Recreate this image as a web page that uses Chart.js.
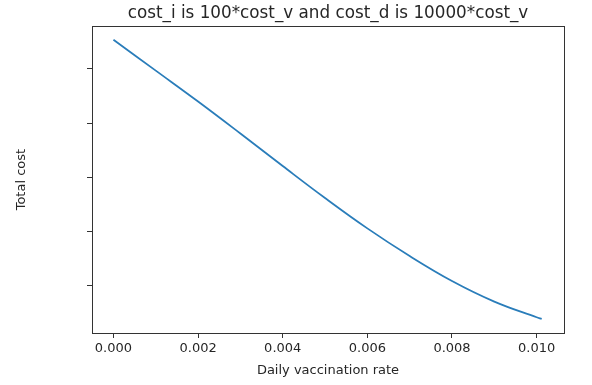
<!DOCTYPE html>
<html>
<head>
<meta charset="utf-8">
<script src="https://cdn.jsdelivr.net/npm/chart.js@4"></script>
<style>
  html, body { margin: 0; padding: 0; background: #fff; }
  canvas { display: block; }
</style>
</head>
<body>
<canvas id="costChart" width="592" height="385"></canvas>
<script>
// values (y in arbitrary units, axis has no labels)
const rates = [0, 0.001, 0.002, 0.003, 0.004, 0.005, 0.006, 0.007, 0.008, 0.009, 0.010, 0.01012];
const totalCost = [5.54, 4.97, 4.40, 3.81, 3.21, 2.62, 2.06, 1.55, 1.09, 0.71, 0.42, 0.39];
const xTicks = [0, 0.002, 0.004, 0.006, 0.008, 0.010];
const yTicks = [1, 2, 3, 4, 5];

Chart.defaults.font.family = "'DejaVu Sans', sans-serif";
Chart.defaults.color = '#262626';

// matplotlib-style box round the plot area
var framePlugin = {
    id: 'frame',
    afterDraw: function(chart) {
        var a = chart.chartArea;
        var ctx = chart.ctx;
        ctx.save();
        ctx.strokeStyle = '#333';
        ctx.lineWidth = 1;
        ctx.strokeRect(Math.round(a.left) + 0.5, Math.round(a.top) + 0.5,
            Math.round(a.right - a.left), Math.round(a.bottom - a.top));
        ctx.restore();
    }
};

var ctx = document.getElementById('costChart').getContext('2d');
var costChart = new Chart(ctx, {
    type: 'line',
    data: {
        datasets: [{
            label: 'Total cost',
            data: rates.map(function(r, i) { return { x: r, y: totalCost[i] }; }),
            borderColor: '#2a7dba',
            borderWidth: 1.8,
            pointRadius: 0,
            tension: 0.4,
            fill: false
        }]
    },
    plugins: [framePlugin],
    options: {
        responsive: false,
        animation: false,
        layout: { padding: { left: 0, right: 28, top: 0, bottom: 0 } },
        plugins: {
            legend: { display: false },
            tooltip: { enabled: false },
            title: {
                display: true,
                fullSize: false,
                text: 'cost_i is 100*cost_v and cost_d is 10000*cost_v',
                color: '#262626',
                font: { size: 16.8, weight: 'normal' },
                padding: { top: 4, bottom: 2 }
            }
        },
        scales: {
            x: {
                type: 'linear',
                min: -0.000507,
                max: 0.010647,
                afterBuildTicks: function(scale) {
                    scale.ticks = xTicks.map(function(v) { return { value: v }; });
                },
                afterFit: function(scale) { scale.height = 52; },
                ticks: {
                    autoSkip: false,
                    maxRotation: 0,
                    padding: 3,
                    font: { size: 13 },
                    callback: function(value) { return value.toFixed(3); }
                },
                grid: { drawOnChartArea: false, tickLength: 5, color: '#333' },
                border: { display: true, color: '#333' },
                title: {
                    display: true,
                    text: 'Daily vaccination rate',
                    font: { size: 13 },
                    padding: { top: 0, bottom: 7 }
                }
            },
            y: {
                type: 'linear',
                min: 0.13,
                max: 5.79,
                afterBuildTicks: function(scale) {
                    scale.ticks = yTicks.map(function(v) { return { value: v }; });
                },
                afterFit: function(scale) { scale.width = 92; },
                ticks: {
                    callback: function() { return ''; }
                },
                grid: { drawOnChartArea: false, tickLength: 5, color: '#333' },
                border: { display: true, color: '#333' },
                title: {
                    display: true,
                    text: 'Total cost',
                    font: { size: 13 },
                    padding: { top: 14, bottom: 0 }
                }
            }
        }
    }
});
</script>
</body>
</html>
